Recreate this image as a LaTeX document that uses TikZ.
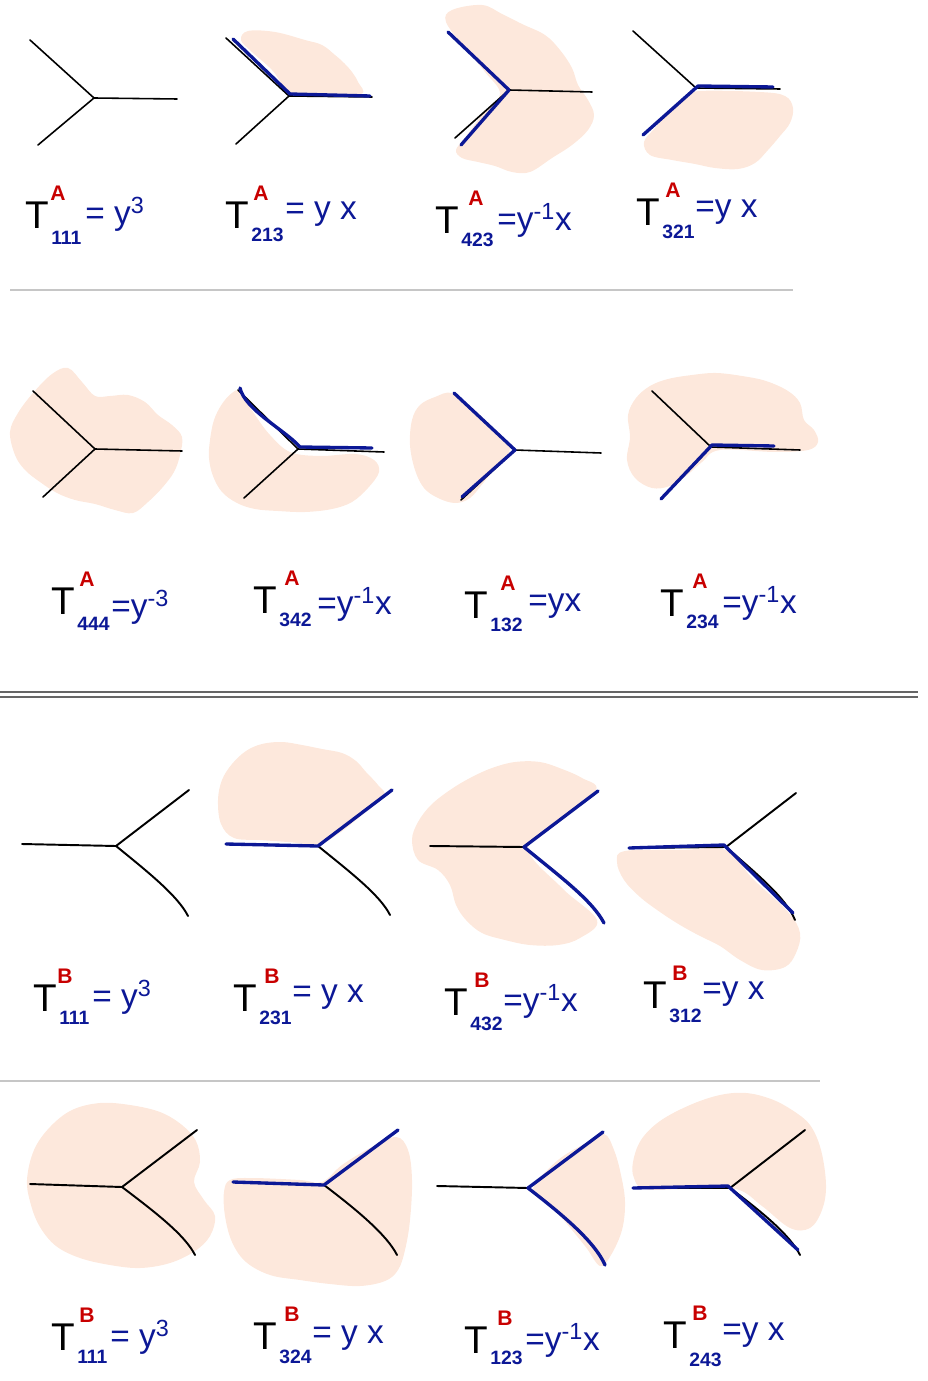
\documentclass[tikz,border=0pt]{standalone}
\usepackage{fontspec}
\setmainfont{Liberation Sans}
\definecolor{peach}{RGB}{253,232,220}
\definecolor{ink}{RGB}{12,24,150}
\definecolor{redink}{RGB}{200,0,0}
\tikzset{
  tline/.style={black, line width=0.9pt, line cap=round, line join=round},
  bline/.style={ink, line width=1.9pt, line cap=round, line join=round},
  blob/.style={fill=peach},
  tT/.style={inner sep=0pt, font=\fontsize{22}{22}\selectfont, text=black},
  tsup/.style={inner sep=0pt, font=\bfseries\fontsize{12}{12}\selectfont, text=redink},
  tsub/.style={inner sep=0pt, font=\bfseries\fontsize{11}{11}\selectfont, text=ink},
  teq/.style={inner sep=0pt, anchor=west, font=\fontsize{19}{19}\selectfont, text=ink},
  sepl/.style={gray!45, line width=0.8pt},
  sepd/.style={gray!80!black, line width=1.1pt}
}
\newcommand\tlabel[8]{%
  \node[tT] (#1T) at (#2) {T};
  \node[tsup, anchor=south] (#1s) at ([yshift=0.5pt]#1T.north -| #3) {#4};
  \node[tsub, anchor=west] (#1b) at ([xshift=1pt]#1T.east |- #5) {#6};
  \node[teq] (#1e) at (#7) {#8};}
\begin{document}
\begin{tikzpicture}[x=0.02cm, y=-0.02cm]
\useasboundingbox (0,0) rectangle (928,1381);

% ---------- separators ----------
\draw[sepl] (10,290) -- (793,290);
\draw[sepd] (0,692) -- (918,692);
\draw[sepd] (0,697) -- (918,697);
\draw[sepl] (0,1081) -- (820,1081);

% ---------- blobs ----------
\fill[blob] plot[smooth cycle, tension=0.6] coordinates {(241,40) (248,31) (275,32) (305,40) (322,45) (335,55) (344,63) (352,72) (358,82) (361,94) (320,95) (291,93) (272,70) (252,52)};
\fill[blob] plot[smooth cycle, tension=0.6] coordinates {(446,22) (452,10) (482,5) (502,14) (522,24) (545,35) (560,50) (572,68) (578,85) (588,100) (594,115) (588,130) (572,145) (552,158) (530,172) (512,172) (495,166) (478,162) (462,158) (456,150) (465,138) (482,115) (500,94) (485,72) (465,48)};
\fill[blob] plot[smooth cycle, tension=0.6] coordinates {(700,91) (760,92) (785,96) (793,108) (790,123) (780,136) (768,150) (755,163) (738,169) (715,168) (695,164) (672,160) (650,155) (644,142) (655,128) (672,110) (688,97)};
\fill[blob] plot[smooth cycle, tension=0.6] coordinates {(10,432) (18,413) (33,393) (52,374) (68,368) (82,382) (95,396) (110,396) (128,395) (145,402) (158,415) (172,425) (182,437) (180,455) (174,472) (162,488) (148,502) (133,513) (115,510) (95,504) (75,500) (57,493) (40,482) (25,470) (15,455)};
\fill[blob] plot[smooth cycle, tension=0.6] coordinates {(210,440) (214,420) (222,404) (232,393) (240,392) (255,415) (270,435) (290,452) (320,456) (355,454) (374,460) (379,472) (368,488) (352,502) (332,509) (305,512) (278,511) (255,509) (237,503) (222,492) (213,476) (209,458)};
\fill[blob] plot[smooth cycle, tension=0.6] coordinates {(412,420) (420,405) (435,397) (452,393) (472,408) (493,428) (510,448) (498,465) (484,482) (470,498) (455,503) (438,498) (424,488) (415,470) (410,445)};
\fill[blob] plot[smooth cycle, tension=0.6] coordinates {(628,415) (636,398) (650,386) (668,379) (692,375) (716,373) (742,376) (766,381) (788,391) (800,403) (804,420) (814,430) (818,442) (808,450) (775,452) (720,450) (702,462) (686,476) (670,486) (652,488) (635,478) (627,460) (630,437)};
\fill[blob] plot[smooth cycle, tension=0.6] coordinates {(218,800) (222,780) (232,764) (246,751) (262,744) (282,742) (302,745) (322,749) (342,753) (356,761) (366,772) (378,785) (384,796) (362,815) (338,834) (318,844) (288,842) (260,840) (234,838) (221,824)};
\fill[blob] plot[smooth cycle, tension=0.6] coordinates {(412,840) (418,822) (431,805) (450,790) (470,778) (492,768) (515,762) (540,762) (562,769) (582,778) (596,790) (562,820) (528,848) (562,888) (597,920) (580,938) (558,945) (530,945) (505,940) (482,933) (466,920) (456,905) (450,885) (438,870) (418,860)};
\fill[blob] plot[smooth cycle, tension=0.6] coordinates {(617,862) (625,851) (680,850) (726,850) (752,878) (788,912) (800,933) (796,953) (785,967) (762,970) (740,960) (720,946) (700,936) (680,925) (660,912) (640,897) (624,880)};
\fill[blob] plot[smooth cycle, tension=0.6] coordinates {(27,1180) (34,1150) (50,1127) (72,1110) (100,1103) (130,1105) (160,1112) (182,1125) (196,1141) (200,1162) (194,1182) (204,1200) (215,1216) (210,1236) (195,1251) (170,1263) (140,1268) (110,1265) (80,1258) (56,1246) (40,1227) (31,1205)};
\fill[blob] plot[smooth cycle, tension=0.6] coordinates {(224,1192) (230,1180) (252,1178) (300,1180) (322,1182) (342,1165) (370,1148) (396,1137) (408,1150) (412,1180) (410,1220) (405,1250) (398,1270) (385,1281) (360,1286) (330,1284) (300,1280) (270,1275) (246,1262) (232,1242) (225,1216)};
\fill[blob] plot[smooth cycle, tension=0.6] coordinates {(534,1186) (558,1160) (584,1144) (604,1134) (614,1150) (621,1175) (625,1202) (622,1230) (611,1255) (600,1266) (585,1246) (560,1216) (540,1196)};
\fill[blob] plot[smooth cycle, tension=0.6] coordinates {(633,1162) (641,1140) (660,1121) (690,1105) (720,1095) (746,1093) (771,1099) (792,1110) (810,1125) (821,1150) (826,1185) (822,1210) (810,1228) (790,1228) (762,1206) (736,1189) (690,1189) (645,1189) (634,1178)};

% ---------- rows 1-2 (type A) ----------
\foreach \n/\cx/\cy/\ux/\uy/\rx/\ry/\lx/\ly in {
  1/94/98/30/40/177/99/38/145,
  2/289/96/226/38/372/97/236/144,
  3/509/90/448/32/592/92/455/138,
  4/696/88/633/31/780/89/643/135,
  5/95/449/33/391/182/451/43/497,
  6/298/449/238/390/384/452/244/498,
  7/515/450/454/393/601/453/461/500,
  8/711/447/652/391/800/450/661/499}{
  \coordinate (a\n c) at (\cx,\cy);
  \coordinate (a\n u) at (\ux,\uy);
  \coordinate (a\n r) at (\rx,\ry);
  \coordinate (a\n l) at (\lx,\ly);
  \draw[tline] (a\n u) -- (a\n c) -- (a\n r);
  \draw[tline] (a\n c) -- (a\n l);
}
% blue highlights, A trees
\coordinate (b2u) at (233,39); \coordinate (b2c) at (290,94); \coordinate (b2r) at (370,96);
\draw[bline] (b2u) -- (b2c) -- (b2r);
\coordinate (b3l) at (461,145);
\draw[bline] (a3u) -- (a3c) -- (b3l);
\coordinate (b4c) at (698,86); \coordinate (b4r) at (773,87);
\draw[bline] (a4l) -- (b4c) -- (b4r);
\coordinate (b6u) at (240,388); \coordinate (b6c) at (300,447); \coordinate (b6r) at (372,448);
\draw[bline] (b6u) .. controls (245,410) and (285,430) .. (b6c) -- (b6r);
\coordinate (b7l) at (462,497);
\draw[bline] (a7u) -- (a7c) -- (b7l);
\coordinate (b8c) at (712,445); \coordinate (b8r) at (774,446);
\draw[bline] (a8l) -- (b8c) -- (b8r);

% ---------- rows 3-4 (type B) ----------
\foreach \n/\cx/\cy/\lx/\ly/\ux/\uy/\rx/\ry/\pa/\pb/\qa/\qb in {
  9/116/846/22/844/189/790/188/916/148/872/178/896,
  10/318/846/226/844/392/790/390/915/350/872/380/895,
  11/524/847/430/846/598/791/604/923/558/875/592/900,
  12/726/847/629/848/796/793/795/920/758/875/786/898,
  13/122/1187/30/1184/197/1130/195/1255/155/1212/185/1235,
  14/324/1185/233/1182/398/1130/397/1255/357/1210/387/1235,
  15/528/1188/437/1186/603/1132/605/1265/563/1215/595/1242,
  16/730/1188/633/1188/805/1130/800/1255/762/1212/790/1235}{
  \coordinate (t\n c) at (\cx,\cy);
  \coordinate (t\n l) at (\lx,\ly);
  \coordinate (t\n u) at (\ux,\uy);
  \coordinate (t\n r) at (\rx,\ry);
  \draw[tline, line width=1.1pt] (t\n l) -- (t\n c) -- (t\n u);
  \draw[tline, line width=1.1pt] (t\n c) .. controls (\pa,\pb) and (\qa,\qb) .. (t\n r);
}
% blue highlights, B trees
\draw[bline] (t10l) -- (t10c) -- (t10u);
\draw[bline] (t11u) -- (t11c) .. controls (558,875) and (592,900) .. (t11r);
\coordinate (b12r) at (793,913); \coordinate (b12c) at (724,845);
\draw[bline] (t12l) -- (b12c) -- (b12r);
\draw[bline] (t14l) -- (t14c) -- (t14u);
\draw[bline] (t15u) -- (t15c) .. controls (563,1215) and (595,1242) .. (t15r);
\coordinate (b16r) at (798,1250); \coordinate (b16c) at (728,1186);
\draw[bline] (t16l) -- (b16c) -- (b16r);

% ---------- labels ----------
\tlabel{L1}{37,215}{58,193}{A}{60,238}{111}{85,214}{= y\textsuperscript{3}}
\tlabel{L2}{237,215}{261,196}{A}{258,235}{213}{285,214}{= y x}
\tlabel{L3}{447,220}{476,204}{A}{476,240}{423}{497,220}{=y\textsuperscript{-1}x}
\tlabel{L4}{648,212}{673,197}{A}{673,232}{321}{695,212}{=y x}
\tlabel{L5}{63,601}{87,578}{A}{80,624}{444}{111,607}{=y\textsuperscript{-3}}
\tlabel{L6}{265,600}{292,579}{A}{292,620}{342}{317,604}{=y\textsuperscript{-1}x}
\tlabel{L7}{476,605}{508,580}{A}{505,625}{132}{528,606}{=yx}
\tlabel{L8}{672,603}{700,584}{A}{697,622}{234}{722,603}{=y\textsuperscript{-1}x}
\tlabel{L9}{45,998}{65,976}{B}{60,1018}{111}{92,997}{= y\textsuperscript{3}}
\tlabel{L10}{245,998}{272,978}{B}{265,1018}{231}{292,997}{= y x}
\tlabel{L11}{456,1002}{482,981}{B}{470,1024}{432}{503,1001}{=y\textsuperscript{-1}x}
\tlabel{L12}{655,995}{680,975}{B}{675,1016}{312}{702,994}{=y x}
\tlabel{L13}{63,1337}{87,1320}{B}{85,1357}{111}{110,1337}{= y\textsuperscript{3}}
\tlabel{L14}{265,1336}{292,1320}{B}{290,1357}{324}{312,1338}{= y x}
\tlabel{L15}{476,1340}{505,1320}{B}{505,1358}{123}{525,1340}{=y\textsuperscript{-1}x}
\tlabel{L16}{675,1335}{700,1318}{B}{697,1360}{243}{722,1335}{=y x}
\end{tikzpicture}
\end{document}
